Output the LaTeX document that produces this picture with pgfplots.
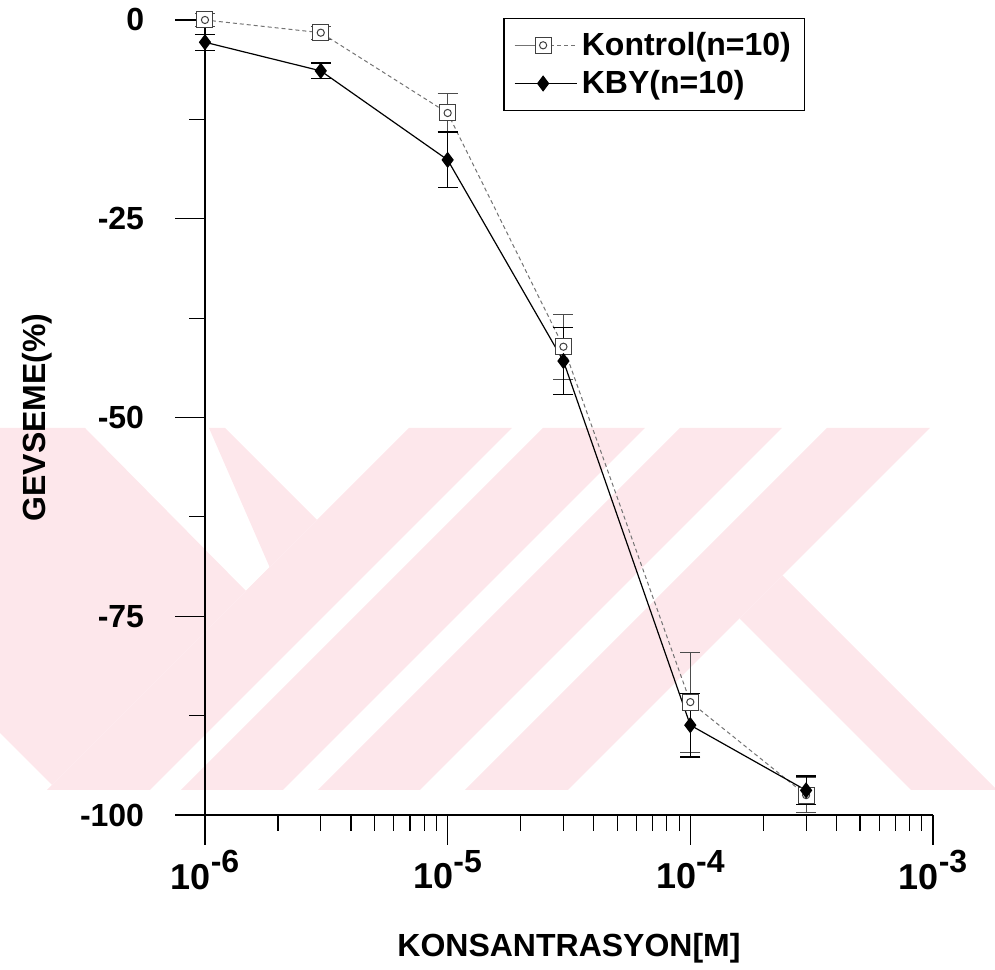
\documentclass[border=0pt]{standalone}
\usepackage{fontspec}
\setmainfont{Liberation Sans}
\usepackage{pgfplots}
\pgfplotsset{compat=1.18}

\definecolor{wmpink}{RGB}{253,231,235}

\pgfdeclareplotmark{sqo}{%
  \pgfpathrectangle{\pgfqpoint{-\pgfplotmarksize}{-\pgfplotmarksize}}{\pgfqpoint{2\pgfplotmarksize}{2\pgfplotmarksize}}%
  \pgfusepathqfillstroke
  \pgfpathcircle{\pgfpointorigin}{0.45\pgfplotmarksize}%
  \pgfusepathqstroke}

\pgfplotstableread{
x      y      e
1e-6   0.0    0.8
3e-6  -1.6    0.8
1e-5  -11.7   2.4
3e-5  -41.1   4.1
1e-4  -85.8   6.3
3e-4  -97.5   2.2
}\kontrol
\pgfplotstableread{
x      y      e
1e-6  -2.8    1.0
3e-6  -6.4    1.0
1e-5  -17.6   3.5
3e-5  -42.9   4.2
1e-4  -88.7   4.0
3e-4  -96.9   1.8
}\kby

\newcommand{\tlab}[1]{{\fontsize{18}{18}\selectfont 10}\raisebox{1.0ex}{\fontsize{16}{16}\selectfont -#1}}

\begin{document}
\begin{tikzpicture}
\begin{scope}[shift={(-102.5pt,407.5pt)},x=0.5pt,y=-0.5pt]
  \path[use as bounding box] (0,0) rectangle (995,969);
  % background watermark
  \fill[wmpink] (0,428) -- (85,428) -- (247,592) -- (270,568) -- (209,428) -- (225,428)
     -- (317,520) -- (52,785) -- (0,733) -- cycle;
  \fill[wmpink] (409,428) -- (512,428) -- (150,790) -- (47,790) -- cycle;
  \fill[wmpink] (543,428) -- (645,428) -- (283,790) -- (181,790) -- cycle;
  \fill[wmpink] (680,428) -- (782,428) -- (420,790) -- (318,790) -- cycle;
  \fill[wmpink] (827,428) -- (930,428) -- (568,790) -- (465,790) -- cycle;
  \fill[wmpink] (739.5,618.5) -- (782.5,575.5) -- (995,788) -- (995,790) -- (911,790) -- cycle;
\end{scope}
\begin{axis}[
  at={(0,0)}, anchor=south west,
  scale only axis, width=364pt, height=397.5pt,
  xmode=log, xmin=1e-6, xmax=1e-3, ymin=-100, ymax=0,
  axis x line*=bottom, axis y line*=left,
  x axis line style={-}, y axis line style={-},
  axis line style={line width=0.8pt},
  tick align=outside, major tick length=15pt, minor tick length=8pt,
  tick style={line width=0.6pt, black},
  xtick={1e-6,1e-5,1e-4,1e-3},
  minor xtick={2e-6,3e-6,4e-6,5e-6,6e-6,7e-6,8e-6,9e-6,2e-5,3e-5,4e-5,5e-5,6e-5,7e-5,8e-5,9e-5,2e-4,3e-4,4e-4,5e-4,6e-4,7e-4,8e-4,9e-4},
  xticklabels={\tlab{6},\tlab{5},\tlab{4},\tlab{3}},
  ytick={-100,-75,-50,-25,0},
  minor ytick={-87.5,-62.5,-37.5,-12.5},
  yticklabels={-100,-75,-50,-25,0},
  ticklabel style={font=\fontsize{16}{18}\selectfont\bfseries},
  yticklabel style={xshift=-12pt},
  xticklabel style={yshift=1pt},
  xlabel={KONSANTRASYON[M]},
  ylabel={GEVSEME(\%)},
  xlabel shift=15pt, ylabel shift=7pt,
  label style={font=\fontsize{16}{18}\selectfont\bfseries},
  clip=false,
  legend style={at={(0.41,1.003)}, anchor=north west, draw=black, line width=0.6pt,
    font=\fontsize{16}{18}\selectfont\bfseries, inner sep=5pt, row sep=2pt},
  legend cell align=left,
  legend image code/.code={%
    \draw[#1, solid] (0cm,0cm) -- (0.5cm,0cm);
    \draw[#1] (0.5cm,0cm) -- (1.1cm,0cm);
    \draw[#1, only marks] plot coordinates {(0.5cm,0cm)};},
]
\addplot[color=black!55, line width=0.5pt, dash pattern=on 2pt off 1.5pt,
  mark=sqo, mark size=4pt, mark options={solid, fill=white, draw=black!75, line width=0.5pt},
  error bars/.cd, y dir=both, y explicit,
  error bar style={solid, black!70, line width=0.5pt},
  error mark options={rotate=90, mark size=5pt, black!70, line width=0.5pt}]
  table[x=x, y=y, y error=e] {\kontrol};
\addlegendentry{Kontrol(n=10)}
\addplot[color=black, line width=0.6pt,
  mark=diamond*, mark size=3.6pt, mark options={solid, fill=black},
  error bars/.cd, y dir=both, y explicit,
  error bar style={solid, black, line width=0.6pt},
  error mark options={rotate=90, mark size=5pt, black, line width=0.6pt}]
  table[x=x, y=y, y error=e] {\kby};
\addlegendentry{KBY(n=10)}
\end{axis}
\end{tikzpicture}
\end{document}
